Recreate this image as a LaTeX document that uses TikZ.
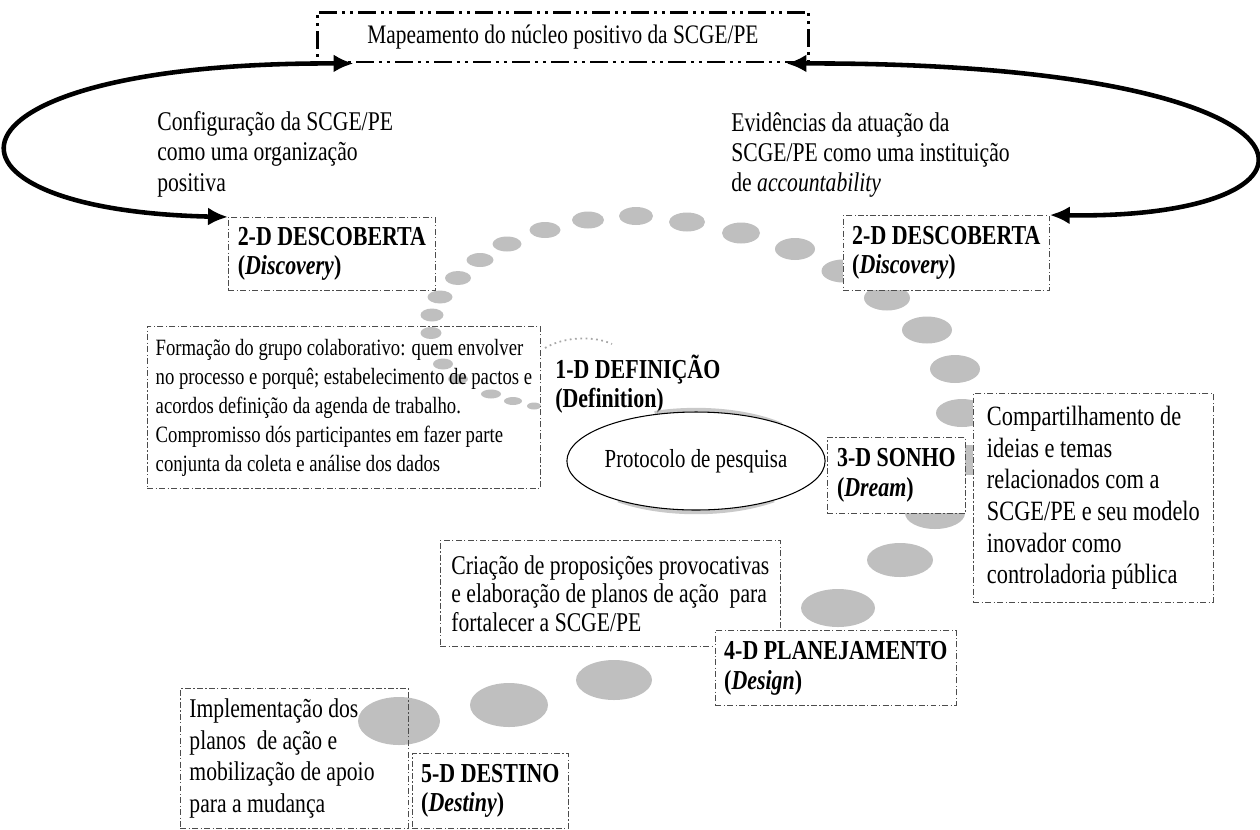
\documentclass[tikz,border=0pt]{standalone}
\usepackage{fontspec}
\setmainfont{Liberation Serif}[FakeStretch=0.8]
\usetikzlibrary{shapes.geometric, arrows.meta}
\tikzset{
    stage/.style={draw=black!70, line width=0.5pt, dash pattern=on 3.4pt off 1.3pt on 0.8pt off 1.3pt,
        fill=white, anchor=north west, align=left, inner xsep=5pt, font=\fontsize{15.6}{17}\selectfont\bfseries},
    note/.style={stage, font=\fontsize{14.8}{16.5}\selectfont},
    lbl/.style={anchor=west, align=left, inner sep=0pt, font=\fontsize{15.4}{17.3}\selectfont},
    blob/.style={fill=black!25},
    bigarrow/.style={line width=2.6pt, {Latex[length=4mm,width=3.6mm]}-{Latex[length=4mm,width=3.6mm]}}
}

\begin{document}
\begin{tikzpicture}[x=0.02cm, y=-0.02cm]
    \useasboundingbox (0,0) rectangle (1260,829);

    % spiral of grey dots
    \foreach \x/\y/\w/\h in {534/406/14/7, 513/401/18/8, 491/394/20/9, 458/379/20/10, 443/364/20/11,
        431/333/21/12, 432/315/23/13, 440/297/25/13, 458/278/26/14, 480/260/27/14, 507/244/29/15,
        545/230/31/16, 588/220/32/17, 636/216/34/18, 687/222/36/19, 741/233/38/21, 795/249/40/22,
        843/271/43/23, 887/298/46/25, 927/330/50/27, 955/369/50/28, 962/413/52/28, 968/460/56/30,
        935/513/60/32, 900/560/66/34, 838/608/74/38, 614/680/76/40, 509/705/78/44, 399/721/82/48}
        \fill[blob] (\x,\y) ellipse [x radius=\w/2, y radius=\h/2];
    \draw[black!35, dotted, line width=1pt] (545,348) .. controls (565,336) and (595,336) .. (612,344);

    \node[draw, line width=1.7pt, dash pattern=on 10pt off 3pt on 1.6pt off 3pt on 1.6pt off 3pt,
        minimum width=9.84cm, minimum height=1cm, font=\fontsize{15.2}{17}\selectfont] (title) at (563,37)
        {Mapeamento do núcleo positivo da SCGE/PE};

    \node[lbl] (conf) at (157,154) {Configuração da SCGE/PE\\como uma organização\\positiva};
    \node[lbl] (evid) at (731,155) {Evidências da atuação da\\SCGE/PE como uma instituição\\de \textit{accountability}};

    \node[stage, fill=none, minimum width=4.14cm, minimum height=1.46cm] (desc1) at (228,217)
        {2-D DESCOBERTA\\(\textit{Discovery})};
    \node[stage, minimum width=3.8cm, minimum height=1.5cm] (desc2) at (843,215)
        {2-D DESCOBERTA\\(\textit{Discovery})};

    \node[note, fill=none, inner xsep=2.5pt, font=\fontsize{13.3}{16.5}\selectfont, minimum width=7.86cm, minimum height=3.24cm] (form) at (147,326)
        {Formação do grupo colaborativo: quem envolver\\no processo e porquê; estabelecimento de pactos e\\acordos definição da agenda de trabalho.\\Compromisso dós participantes em fazer parte\\conjunta da coleta e análise dos dados};

    \node[lbl, font=\fontsize{15.6}{16.5}\selectfont\bfseries] (defi) at (555,384) {1-D DEFINIÇÃO\\(Definition)};

    % protocol with its grey smudges
    \draw[black!30, line width=2.5pt, opacity=.7] (654.6,413.1) arc[start angle=250, end angle=315, x radius=121, y radius=51];
    \draw[black!30, line width=2.5pt, opacity=.7] (773.8,500.1) arc[start angle=50, end angle=130, x radius=121, y radius=51];
    \node[ellipse, draw, line width=0.6pt, fill=white, minimum width=4.76cm, minimum height=1.96cm, inner sep=0pt,
        font=\fontsize{14.8}{16}\selectfont] (proto) at (696,461) {Protocolo de pesquisa};

    \node[stage, minimum width=2.76cm, minimum height=1.52cm] (sonho) at (827,437) {3-D SONHO\\(\textit{Dream})};
    \node[note, font=\fontsize{15.9}{18}\selectfont, minimum width=4.8cm, minimum height=4.18cm] (comp) at (973,393)
        {Compartilhamento de\\ideias e temas\\relacionados com a\\SCGE/PE e seu modelo\\inovador como\\controladoria pública};

    \node[note, font=\fontsize{15.4}{16.3}\selectfont, minimum width=6.8cm, minimum height=2.12cm] (cria) at (440,540)
        {Criação de proposições provocativas\\e elaboração de planos de ação\ \ para\\fortalecer a SCGE/PE};
    \node[stage, minimum width=4.8cm, minimum height=1.5cm] (plan) at (715,630) {4-D PLANEJAMENTO\\(\textit{Design})};

    \node[note, fill=none, align=flush left, font=\fontsize{15.4}{18}\selectfont, text width=4.2cm, minimum width=4.56cm, minimum height=2.8cm] (impl) at (180,688)
        {Implementação dos\\planos\ \ de ação e\\mobilização de apoio\\para a mudança};
    \node[stage, minimum width=2.9cm, minimum height=1.5cm] (dest) at (412,753) {5-D DESTINO\\(\textit{Destiny})};

    \draw[bigarrow] ([xshift=0.76cm]title.south west) .. controls (-75,62) and (-90,210) .. (desc1.north west);
    \draw[bigarrow] ([xshift=-0.48cm]title.south east) .. controls (1350,62) and (1360,220) .. (desc2.north east);
\end{tikzpicture}
\end{document}
